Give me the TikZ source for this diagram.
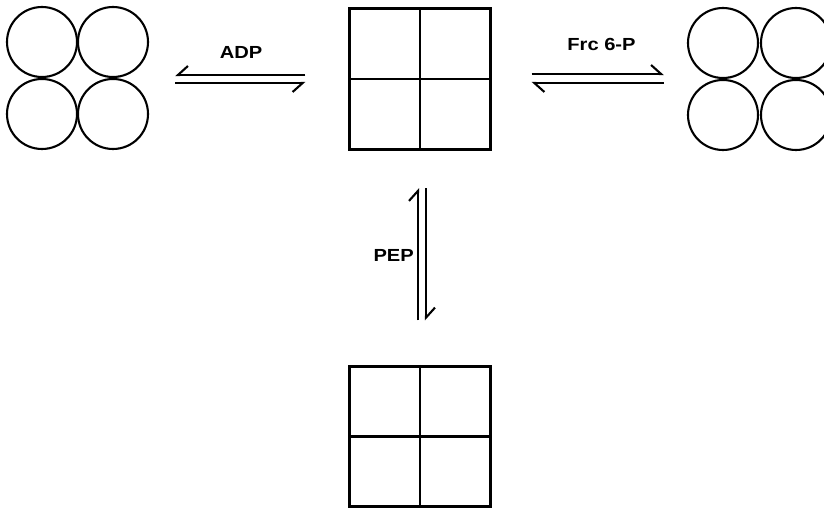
\documentclass[tikz,border=0pt]{standalone}
\usepackage{fontspec}
\setmainfont{Liberation Sans}[FakeStretch=1.15]
\usetikzlibrary{arrows.meta}

\tikzset{
  bead/.style={circle, draw, line width=2.1pt, minimum size=70pt, inner sep=0pt},
  tile/.style={rectangle, draw, line width=2.8pt, minimum size=140.5pt, inner sep=0pt},
  cluster/.style={rectangle, minimum size=144pt, inner sep=0pt},
  harp/.style={line width=2.1pt, -{Straight Barb[length=10pt, width=18pt, #1]}},
  lbl/.style={font=\bfseries\fontsize{17.5}{19}\selectfont, inner sep=0pt},
}

\begin{document}
\begin{tikzpicture}[x=1pt, y=1pt]
  \useasboundingbox (0,0) rectangle (824,509);
  % tetramers of circles (left and right)
  \foreach \n/\x/\y in {lA/42/467, lB/113/467, lC/42/395, lD/113/395,
                        rA/723/466, rB/796/466, rC/723/394, rD/796/394} {
    \node[bead] (\n) at (\x,\y) {};
  }
  \node[cluster] (L) at (77.5,430) {};
  \node[cluster] (R) at (759.5,430) {};
  % tetramers of squares (top and bottom)
  \node[tile] (top) at (420,430) {};
  \node[tile] (bot) at (420,72.5) {};
  \foreach \s in {top, bot} {
    \draw[line width=2.6pt] (\s.north) -- (\s.south) (\s.west) -- (\s.east);
  }
  % equilibria
  \draw[harp=right, shorten <=43pt, shorten >=25.5pt] ([yshift=4pt]top.west) -- ([yshift=4pt]L.east);
  \draw[harp=right, shorten <=25.5pt, shorten >=43pt] ([yshift=-4pt]L.east) -- ([yshift=-4pt]top.west);
  \node[lbl, anchor=base] (adp) at (241,450) {ADP};
  \draw[harp=left, shorten <=40pt, shorten >=23.5pt] ([yshift=5pt]top.east) -- ([yshift=5pt]R.west);
  \draw[harp=left, shorten <=23.5pt, shorten >=40pt] ([yshift=-4pt]R.west) -- ([yshift=-4pt]top.east);
  \node[lbl, anchor=base] (frc) at (601.5,458) {Frc 6-P};
  \draw[harp=left, shorten <=44.5pt, shorten >=37.5pt] ([xshift=-2pt]bot.north) -- ([xshift=-2pt]top.south);
  \draw[harp=left, shorten <=37.5pt, shorten >=44.5pt] ([xshift=6pt]top.south) -- ([xshift=6pt]bot.north);
  \node[lbl, anchor=base east] (pep) at (414,247) {PEP};
\end{tikzpicture}
\end{document}
